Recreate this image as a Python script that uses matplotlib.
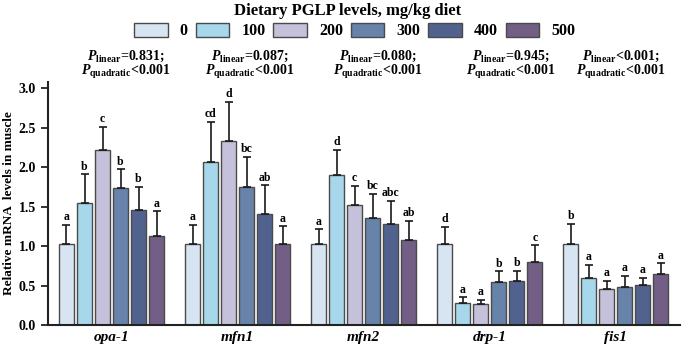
import numpy as np
import matplotlib
matplotlib.use("Agg")
import matplotlib.pyplot as plt
from matplotlib.patches import Patch

plt.rcParams['font.family'] = ['Liberation Serif', 'DejaVu Serif']
plt.rcParams['font.weight'] = 'bold'
plt.rcParams['axes.labelweight'] = 'bold'
plt.rcParams['mathtext.fontset'] = 'custom'
plt.rcParams['mathtext.rm'] = 'Liberation Serif:bold'
plt.rcParams['mathtext.it'] = 'Liberation Serif:italic:bold'
plt.rcParams['mathtext.bf'] = 'Liberation Serif:bold'

# data
genes = ['opa-1', 'mfn1', 'mfn2', 'drp-1', 'fis1']
levels = ['0', '100', '200', '300', '400', '500']
means = [
    [1.02, 1.55, 2.21, 1.74, 1.46, 1.13],
    [1.02, 2.06, 2.33, 1.75, 1.41, 1.02],
    [1.02, 1.90, 1.52, 1.36, 1.28, 1.08],
    [1.02, 0.28, 0.26, 0.54, 0.56, 0.80],
    [1.02, 0.60, 0.45, 0.48, 0.51, 0.64],
]
err_top = [
    [1.27, 1.91, 2.51, 1.97, 1.75, 1.44],
    [1.27, 2.57, 2.83, 2.13, 1.77, 1.25],
    [1.21, 2.22, 1.76, 1.66, 1.57, 1.32],
    [1.24, 0.35, 0.32, 0.68, 0.69, 1.01],
    [1.28, 0.76, 0.56, 0.62, 0.60, 0.78],
]
letters = [
    ['a', 'b', 'c', 'b', 'b', 'a'],
    ['a', 'cd', 'd', 'bc', 'ab', 'a'],
    ['a', 'd', 'c', 'bc', 'abc', 'ab'],
    ['d', 'a', 'a', 'b', 'b', 'c'],
    ['b', 'a', 'a', 'a', 'a', 'a'],
]
p_linear = ['=0.831;', '=0.087;', '=0.080;', '=0.945;', '<0.001;']
p_quad = ['<0.001', '<0.001', '<0.001', '<0.001', '<0.001']

colors = ['#d7e5f2', '#a6d7ea', '#c6c1da', '#6883a9', '#51628f', '#735f86']

fig = plt.figure(figsize=(6.85, 3.46), dpi=100)
ax = fig.add_axes([0.0701, 0.0607, 0.9226, 0.703])

x = np.arange(len(genes))
step = 0.143
width = 0.117
for j in range(len(levels)):
    m = np.array([row[j] for row in means])
    t = np.array([row[j] for row in err_top])
    xs = x + (j - 2.5) * step
    ax.bar(xs, m, width=width, color=colors[j], edgecolor='#4a4a4a',
           linewidth=1.0, zorder=2)
    ax.errorbar(xs, m, yerr=[np.zeros_like(m), t - m], fmt='none',
                ecolor='#1a1a1a', elinewidth=1.2, capsize=3, capthick=1.2,
                zorder=3)
    for k in range(len(genes)):
        ax.text(xs[k], t[k] + 0.02, letters[k][j], ha='center', va='bottom',
                fontsize=8.5, fontweight='bold')

# P values above each group
text_x = [0.115, 1.10, 2.116, 3.17, 4.04]
for k in range(len(genes)):
    ax.text(text_x[k], 3.36, r'$\mathit{P}_{\mathrm{linear}}$' + p_linear[k],
            ha='center', va='baseline', fontsize=10, fontweight='bold',
            clip_on=False)
    ax.text(text_x[k], 3.165, r'$\mathit{P}_{\mathrm{quadratic}}$' + p_quad[k],
            ha='center', va='baseline', fontsize=10, fontweight='bold',
            clip_on=False)

ax.set_xlim(-0.504, 4.51)
ax.set_ylim(0, 3.08)
yt = np.arange(0, 3.01, 0.5)
ax.set_yticks(yt)
ax.set_yticklabels([f'{v:.1f}' for v in yt], fontweight='bold')
ax.set_xticks(x)
ax.set_xticklabels(genes, fontstyle='italic', fontweight='bold', fontsize=11)
ax.tick_params(axis='x', length=0, pad=4)
ax.tick_params(axis='y', labelsize=10, width=1.3, length=5, color='#222')
for s in ['top', 'right']:
    ax.spines[s].set_visible(False)
for s in ['left', 'bottom']:
    ax.spines[s].set_linewidth(1.5)
    ax.spines[s].set_color('#222')
ax.set_ylabel('Relative mRNA  levels in muscle', fontsize=9.5,
              fontweight='bold', labelpad=3)

fig.text(0.508, 0.968, 'Dietary PGLP levels, mg/kg diet', ha='center',
         va='center', fontsize=12, fontweight='bold')
handles = [Patch(facecolor=c, edgecolor='#4a4a4a', linewidth=1.0) for c in colors]
fig.legend(handles, levels, loc='center', bbox_to_anchor=(0.518, 0.910),
           ncol=6, frameon=False, prop={'size': 11.5, 'weight': 'bold'},
           handlelength=2.1, handleheight=1.0, handletextpad=0.75,
           columnspacing=0.5)

fig.savefig('out.png', dpi=100)
